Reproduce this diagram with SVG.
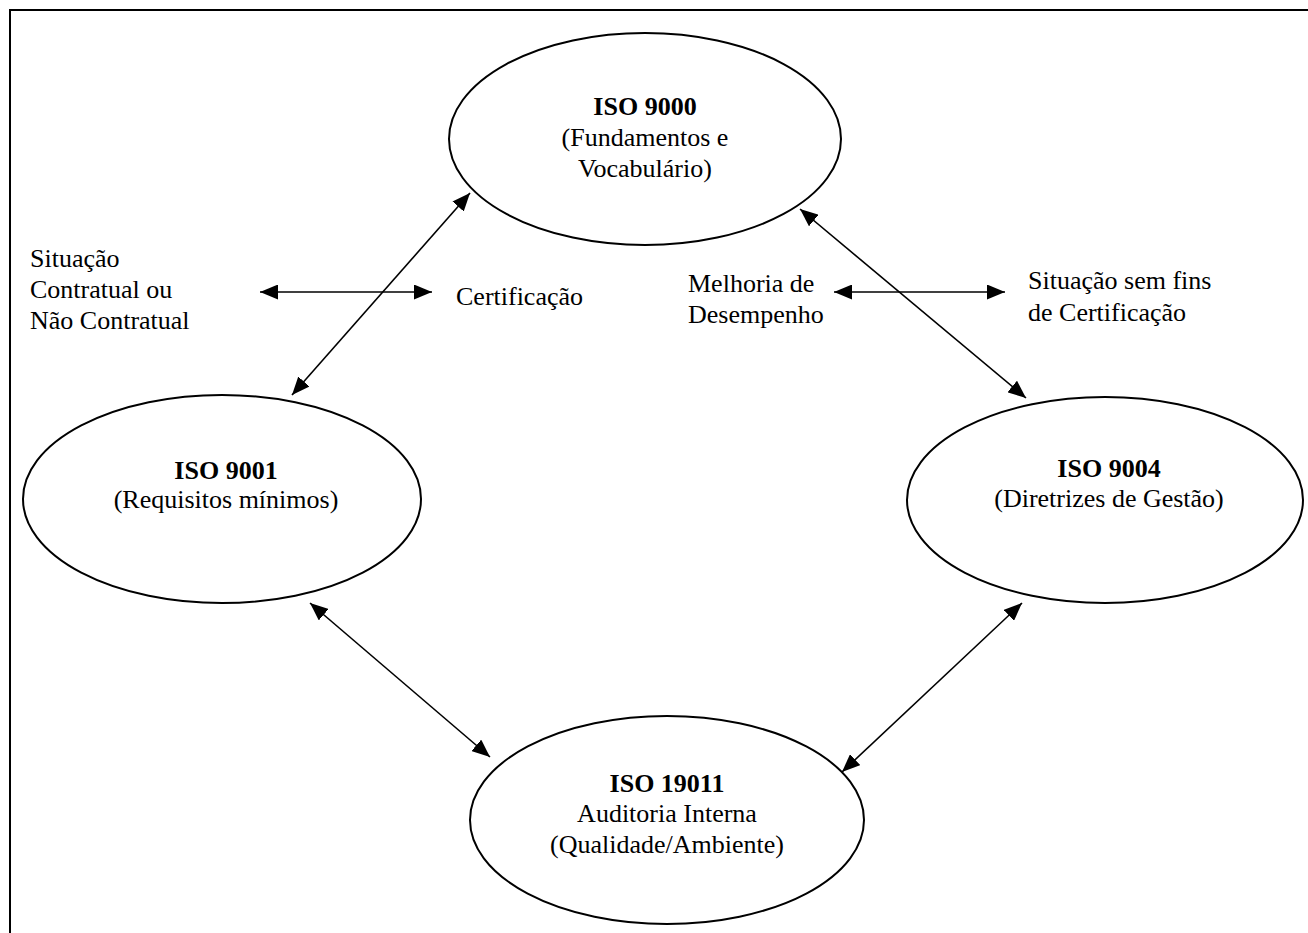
<svg xmlns="http://www.w3.org/2000/svg" width="1308" height="933" viewBox="0 0 1308 933">
  <style>
    .frame { fill: none; stroke: #000; stroke-width: 2; }
    .node ellipse { fill: #fff; stroke: #000; stroke-width: 2; }
    text { font-family: "Liberation Serif", "Times New Roman", serif; font-size: 26px; fill: #000; }
    .node text { text-anchor: middle; }
    .title { font-weight: bold; }
    .link { stroke: #000; stroke-width: 1.6; fill: none; marker-start: url(#head); marker-end: url(#head); }
  </style>
  <defs>
    <marker id="head" markerUnits="userSpaceOnUse" markerWidth="19" markerHeight="15" refX="18" refY="7.5" orient="auto-start-reverse">
      <path d="M0,0 L18,7.5 L0,15 z" fill="#000"/>
    </marker>
  </defs>

  <rect width="1308" height="933" fill="#fff"/>
  <rect class="frame" x="10" y="10" width="1320" height="950"/>

  <g id="connectors">
    <line class="link" x1="292" y1="395" x2="470" y2="193"/>
    <line class="link" x1="800" y1="209" x2="1026" y2="398"/>
    <line class="link" x1="310" y1="603" x2="490" y2="757"/>
    <line class="link" x1="1022" y1="603" x2="842" y2="772"/>
    <line class="link" x1="260" y1="292" x2="432" y2="292"/>
    <line class="link" x1="834" y1="292" x2="1005" y2="292"/>
  </g>

  <g id="iso9000" class="node">
    <ellipse cx="645" cy="139" rx="196" ry="106"/>
    <text x="645" y="115" class="title">ISO 9000</text>
    <text x="645" y="146">(Fundamentos e</text>
    <text x="645" y="177">Vocabulário)</text>
  </g>

  <g id="iso9001" class="node">
    <ellipse cx="222" cy="499" rx="199" ry="104"/>
    <text x="226" y="479" class="title">ISO 9001</text>
    <text x="226" y="508">(Requisitos mínimos)</text>
  </g>

  <g id="iso9004" class="node">
    <ellipse cx="1105" cy="500" rx="198" ry="103"/>
    <text x="1109" y="477" class="title">ISO 9004</text>
    <text x="1109" y="507">(Diretrizes de Gestão)</text>
  </g>

  <g id="iso19011" class="node">
    <ellipse cx="667" cy="820" rx="197" ry="104"/>
    <text x="667" y="792" class="title">ISO 19011</text>
    <text x="667" y="822">Auditoria Interna</text>
    <text x="667" y="853">(Qualidade/Ambiente)</text>
  </g>

  <g id="label-contratual">
    <text x="30" y="267">Situação</text>
    <text x="30" y="298">Contratual ou</text>
    <text x="30" y="329">Não Contratual</text>
  </g>

  <g id="label-certificacao">
    <text x="456" y="305">Certificação</text>
  </g>

  <g id="label-melhoria">
    <text x="688" y="292">Melhoria de</text>
    <text x="688" y="323">Desempenho</text>
  </g>

  <g id="label-sem-certificacao">
    <text x="1028" y="289">Situação sem fins</text>
    <text x="1028" y="321">de Certificação</text>
  </g>
</svg>
